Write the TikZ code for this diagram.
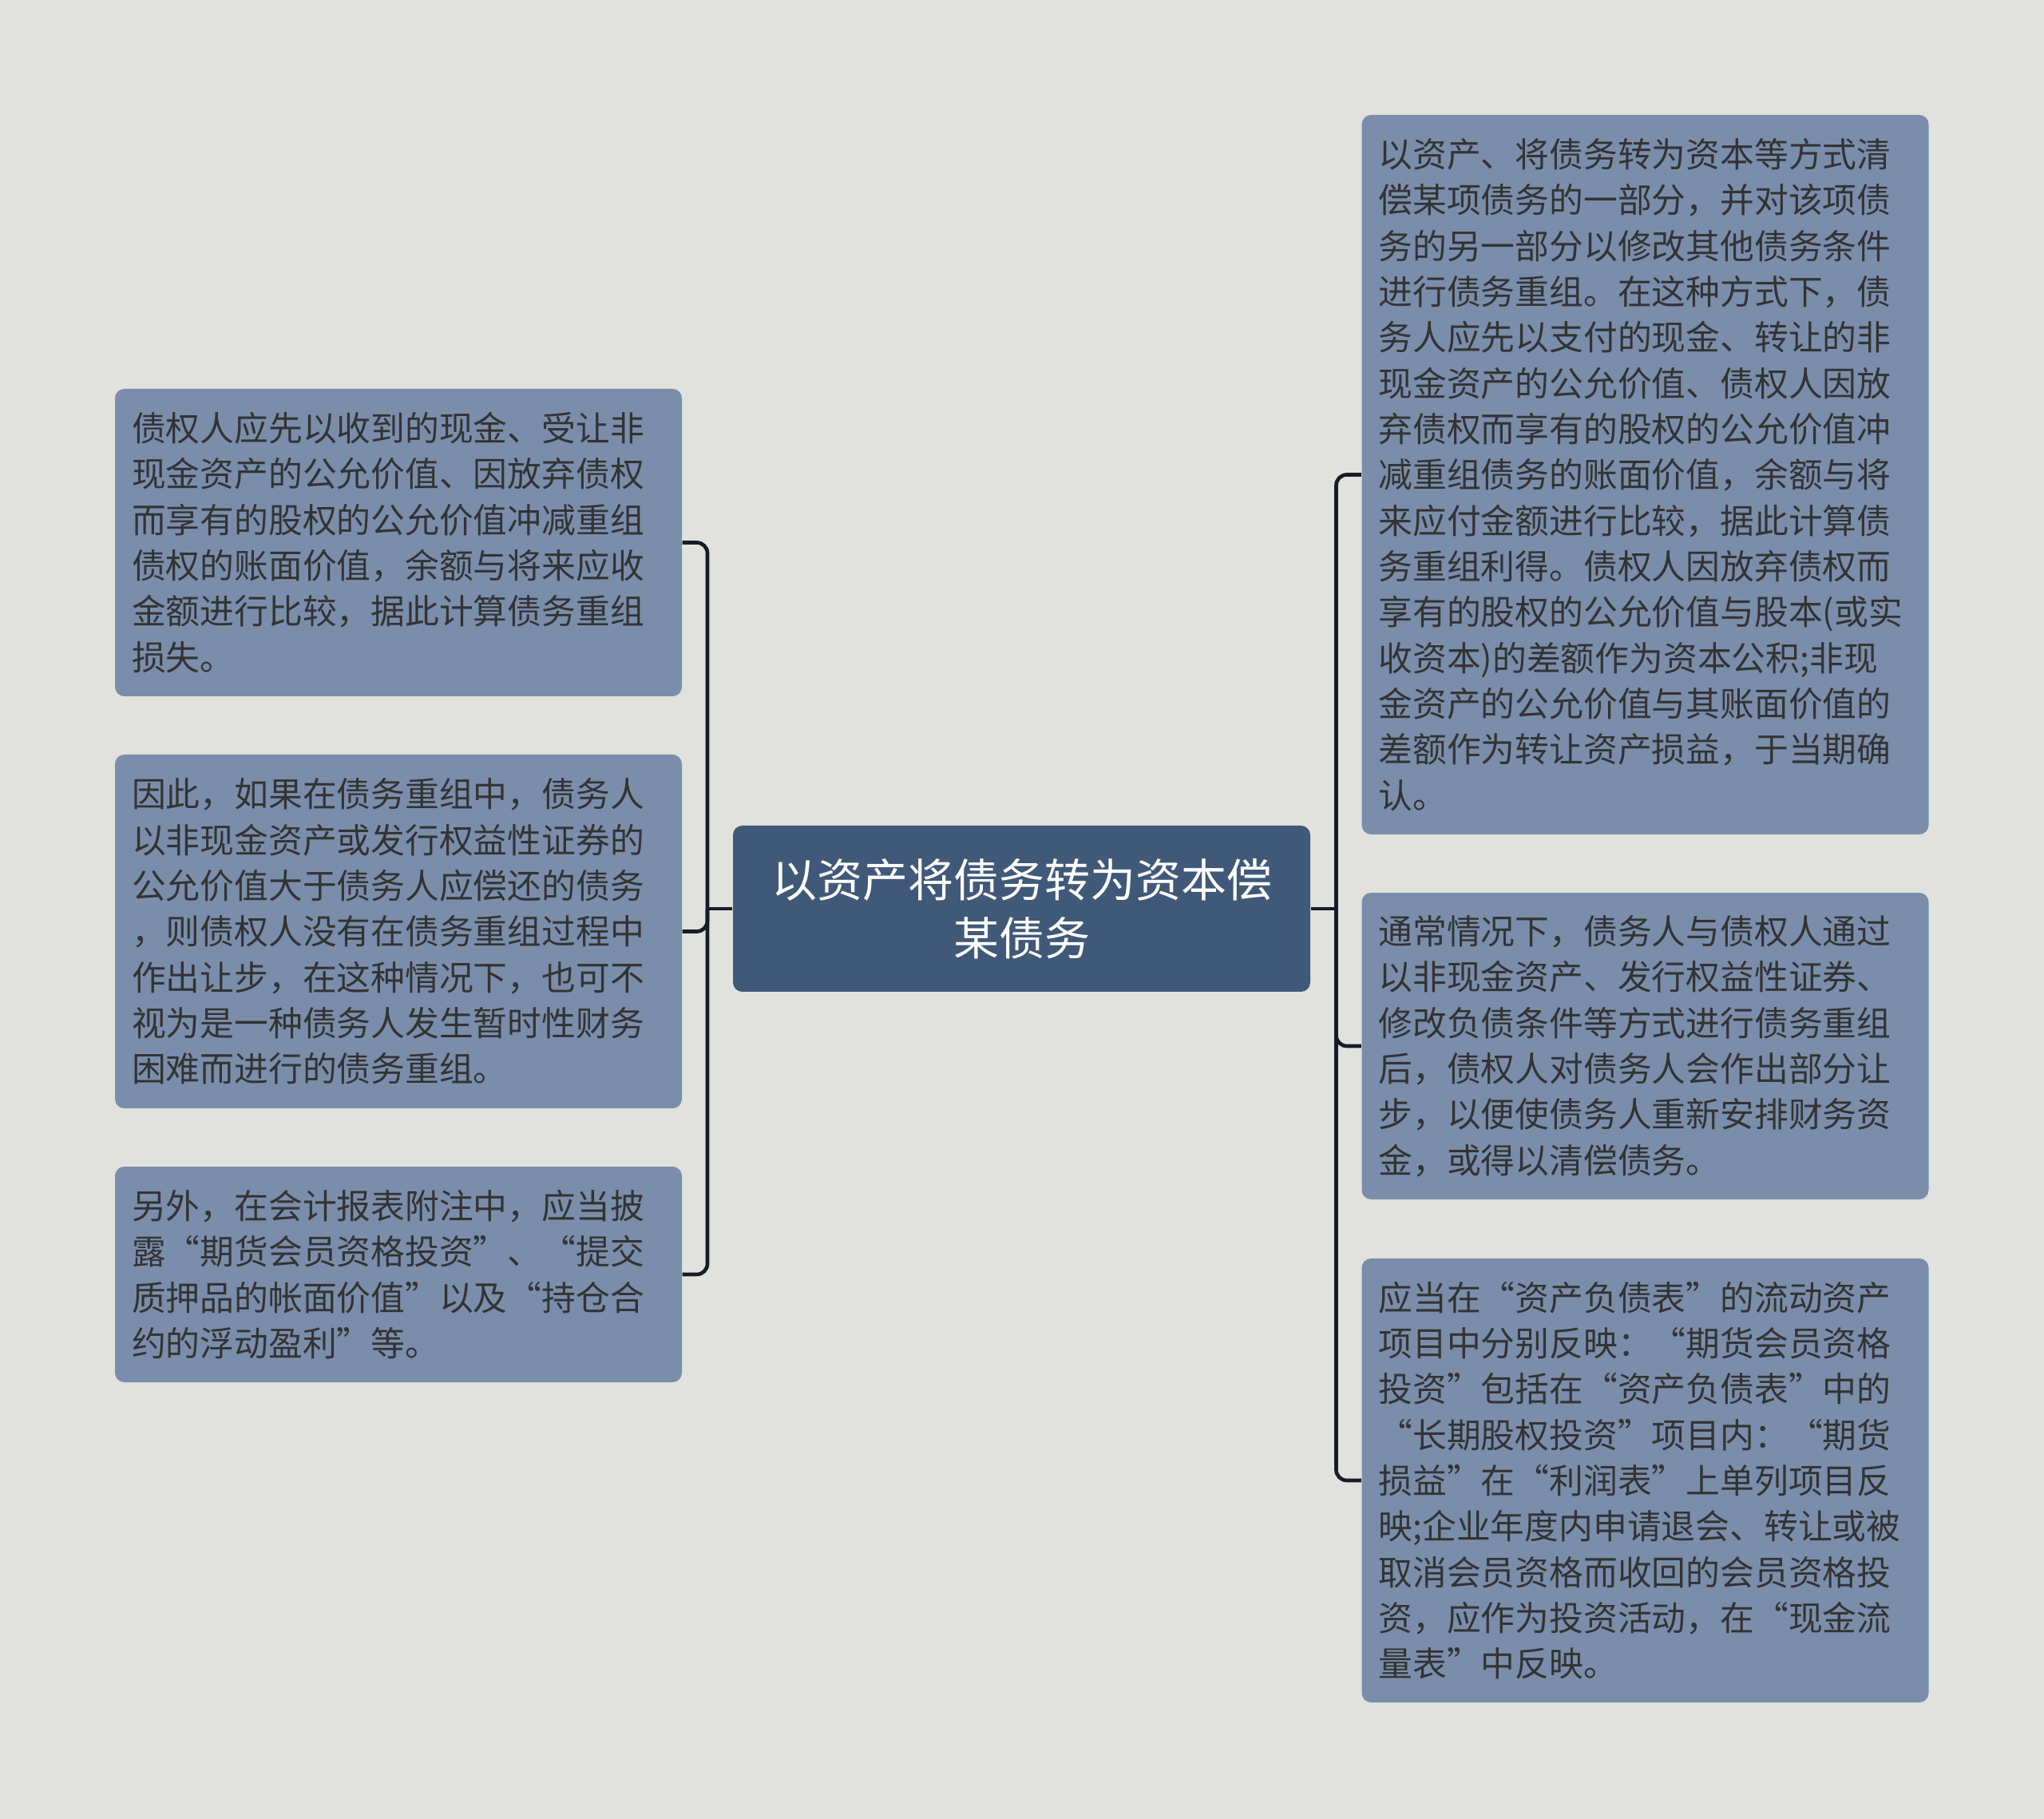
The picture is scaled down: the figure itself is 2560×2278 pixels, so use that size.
\documentclass[tikz,border=0pt]{standalone}
\usepackage{fontspec}
\newfontfamily\cjk{Noto Sans CJK SC}
\definecolor{paper}{HTML}{E1E2DD}
\definecolor{leafblue}{HTML}{7A8EAB}
\definecolor{rootblue}{HTML}{415978}
\definecolor{inkgray}{HTML}{333333}
\definecolor{linkdark}{HTML}{161C28}

\begin{document}
\begin{tikzpicture}[x=0.3pt,y=-0.3pt]
\tikzstyle{every node}+=[inner sep=0pt]
\tikzstyle{leaf}=[fill=leafblue, rounded corners=3.5pt, text=inkgray, align=left,
  font=\cjk\fontsize{12.84pt}{17.2pt}\selectfont, text width=200.4pt, inner xsep=6.3pt]
\tikzstyle{topic}=[fill=rootblue, rounded corners=3.5pt, text=white, align=center,
  font=\cjk\fontsize{17.1pt}{22pt}\selectfont, minimum width=216.9pt, minimum height=62.4pt]
\tikzstyle{link}=[draw=linkdark, line width=1.4pt, rounded corners=4pt]
\fill [paper] (0,0) rectangle (2560,2278);
\useasboundingbox (0,0) rectangle (2560,2278);
% centre
\node [topic] (root) at (1279.5,1138) {以资产将债务转为资本偿\\某债务};
% left side
\node [leaf, minimum height=115.5pt] (l1) at (499,679.5) {债权人应先以收到的现金、受让非\\现金资产的公允价值、因放弃债权\\而享有的股权的公允价值冲减重组\\债权的账面价值，余额与将来应收\\金额进行比较，据此计算债务重组\\损失。};
\node [leaf, minimum height=132.9pt] (l2) at (499,1166.5) {因此，如果在债务重组中，债务人\\以非现金资产或发行权益性证券的\\公允价值大于债务人应偿还的债务\\，则债权人没有在债务重组过程中\\作出让步，在这种情况下，也可不\\视为是一种债务人发生暂时性财务\\困难而进行的债务重组。};
\node [leaf, minimum height=81pt] (l3) at (499,1596) {另外，在会计报表附注中，应当披\\露“期货会员资格投资”、“提交\\质押品的帐面价值”以及“持仓合\\约的浮动盈利”等。};
% right side
\node [leaf, minimum height=270.3pt] (r1) at (2060.5,594.5) {以资产、将债务转为资本等方式清\\偿某项债务的一部分，并对该项债\\务的另一部分以修改其他债务条件\\进行债务重组。在这种方式下，债\\务人应先以支付的现金、转让的非\\现金资产的公允价值、债权人因放\\弃债权而享有的股权的公允价值冲\\减重组债务的账面价值，余额与将\\来应付金额进行比较，据此计算债\\务重组利得。债权人因放弃债权而\\享有的股权的公允价值与股本(或实\\收资本)的差额作为资本公积;非现\\金资产的公允价值与其账面价值的\\差额作为转让资产损益，于当期确\\认。};
\node [leaf, minimum height=115.2pt] (r2) at (2060.5,1310) {通常情况下，债务人与债权人通过\\以非现金资产、发行权益性证券、\\修改负债条件等方式进行债务重组\\后，债权人对债务人会作出部分让\\步，以便使债务人重新安排财务资\\金，或得以清偿债务。};
\node [leaf, minimum height=166.8pt] (r3) at (2060.5,1854) {应当在“资产负债表”的流动资产\\项目中分别反映：“期货会员资格\\投资”包括在“资产负债表”中的\\“长期股权投资”项目内：“期货\\损益”在“利润表”上单列项目反\\映;企业年度内申请退会、转让或被\\取消会员资格而收回的会员资格投\\资，应作为投资活动，在“现金流\\量表”中反映。};
% connectors
\coordinate (lfork) at (886,1138);
\coordinate (rfork) at (1673.5,1138);
\draw [link] (root.west) -- (lfork);
\draw [link] (root.east) -- (rfork);
\foreach \n in {l1,l2,l3}
  \draw [link] (lfork) |- (\n.east);
\foreach \n in {r1,r2,r3}
  \draw [link] (rfork) |- (\n.west);
\end{tikzpicture}
\end{document}
